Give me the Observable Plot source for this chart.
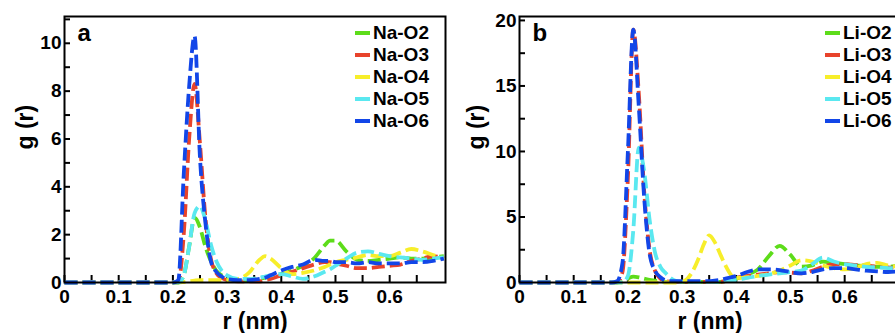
<!DOCTYPE html>
<html><head><meta charset="utf-8">
<script src="https://cdn.jsdelivr.net/npm/d3@7"></script>
<script src="https://cdn.jsdelivr.net/npm/@observablehq/plot@0.6"></script>
<style>
body{margin:0;background:#fff;width:895px;height:333px;overflow:hidden;font-family:"Liberation Sans",Arial,sans-serif;}
#wrap{position:relative;width:895px;height:333px;overflow:hidden;}
.panel{position:absolute;top:0;}
.legend{position:absolute;font-weight:bold;font-size:19px;color:#000;}
.legend .row{position:absolute;left:0;height:22px;display:flex;align-items:center;white-space:nowrap;}
.legend .sw{display:inline-block;width:15px;height:4px;margin-right:3px;}
</style></head>
<body><div id="wrap"></div>
<script>
// ----- data -----
const seriesColors = ["#5ddc1a", "#e8432b", "#f7ee2a", "#5ae8f0", "#1246e8"];
const namesA = ["Na-O2", "Na-O3", "Na-O4", "Na-O5", "Na-O6"];
const namesB = ["Li-O2", "Li-O3", "Li-O4", "Li-O5", "Li-O6"];

// panel a: r (nm)
const rA = [0, 0.05, 0.1, 0.15, 0.2, 0.21, 0.22, 0.23, 0.24, 0.25, 0.26, 0.27, 0.28, 0.29, 0.30,
            0.32, 0.34, 0.36, 0.37, 0.38, 0.40, 0.42, 0.44, 0.46, 0.48, 0.49, 0.50, 0.52, 0.54,
            0.56, 0.58, 0.60, 0.62, 0.64, 0.66, 0.68, 0.70];
const naO2 = [0, 0, 0, 0, 0, 0, 0.3, 1.5, 2.7, 2.3, 1.5, 0.9, 0.5, 0.3, 0.15,
              0.1, 0.1, 0.15, 0.2, 0.25, 0.35, 0.5, 0.7, 1.0, 1.55, 1.75, 1.75, 1.3, 0.95,
              0.9, 0.95, 1.0, 1.05, 1.0, 1.0, 1.05, 1.1];
const naO3 = [0, 0, 0, 0, 0, 0, 2.0, 6.0, 8.3, 5.8, 2.7, 1.0, 0.4, 0.2, 0.1,
              0.05, 0.05, 0.05, 0.1, 0.15, 0.3, 0.45, 0.6, 0.75, 0.85, 0.85, 0.8, 0.7, 0.6,
              0.6, 0.65, 0.7, 0.75, 0.9, 1.0, 1.1, 1.0];
const naO4 = [0, 0, 0, 0, 0, 0, 0.02, 0.05, 0.08, 0.1, 0.1, 0.1, 0.1, 0.1, 0.1,
              0.15, 0.4, 0.95, 1.1, 1.0, 0.6, 0.35, 0.4, 0.5, 0.65, 0.75, 0.85, 0.95, 1.05,
              1.15, 1.1, 1.1, 1.25, 1.4, 1.3, 1.15, 1.0];
const naO5 = [0, 0, 0, 0, 0, 0, 0.3, 1.5, 2.9, 3.2, 2.6, 1.6, 0.9, 0.5, 0.3,
              0.15, 0.15, 0.2, 0.25, 0.3, 0.35, 0.25, 0.15, 0.25, 0.45, 0.55, 0.7, 1.0, 1.25,
              1.3, 1.2, 1.1, 1.05, 1.0, 0.95, 1.0, 1.05];
const naO6 = [0, 0, 0, 0, 0, 0.1, 4.5, 8.2, 10.3, 5.2, 2.5, 0.9, 0.45, 0.25, 0.15,
              0.1, 0.1, 0.15, 0.2, 0.3, 0.5, 0.65, 0.75, 0.95, 0.9, 0.9, 0.85, 0.85, 0.8,
              0.85, 0.8, 0.8, 0.8, 0.85, 0.85, 0.9, 1.0];

// panel b: r (nm)
const rB = [0, 0.05, 0.1, 0.15, 0.17, 0.18, 0.19, 0.20, 0.21, 0.22, 0.23, 0.24, 0.25, 0.26, 0.27,
            0.28, 0.29, 0.30, 0.31, 0.32, 0.33, 0.34, 0.35, 0.36, 0.37, 0.38, 0.39, 0.40, 0.42,
            0.44, 0.46, 0.48, 0.50, 0.52, 0.54, 0.56, 0.58, 0.60, 0.62, 0.64, 0.66, 0.68, 0.70];
const liO2 = [0, 0, 0, 0, 0, 0, 0.1, 0.3, 0.45, 0.4, 0.3, 0.2, 0.15, 0.1, 0.05,
              0.05, 0.05, 0.05, 0.05, 0.05, 0.05, 0.05, 0.05, 0.05, 0.05, 0.1, 0.2, 0.3, 0.6,
              1.0, 2.0, 2.8, 2.1, 1.2, 1.3, 1.6, 1.5, 1.4, 1.3, 1.25, 1.2, 1.2, 1.3];
const liO3 = [0, 0, 0, 0, 0, 0, 0.8, 8.0, 19.3, 14.5, 7.0, 2.5, 0.9, 0.3, 0.1,
              0.05, 0.05, 0.05, 0.05, 0.05, 0.05, 0.05, 0.05, 0.05, 0.05, 0.1, 0.2, 0.35, 0.5,
              0.6, 0.7, 0.8, 0.75, 0.7, 0.9, 1.2, 1.4, 1.4, 1.35, 1.3, 1.2, 1.15, 1.1];
const liO4 = [0, 0, 0, 0, 0, 0, 0, 0, 0, 0, 0, 0, 0, 0, 0,
              0, 0, 0.05, 0.3, 0.9, 1.8, 2.9, 3.6, 3.1, 2.2, 1.3, 0.6, 0.35, 0.4,
              0.5, 0.65, 0.9, 1.3, 1.7, 1.6, 1.3, 1.1, 1.0, 1.1, 1.4, 1.5, 1.3, 1.2];
const liO5 = [0, 0, 0, 0, 0, 0, 0, 0.5, 4.0, 10.3, 8.5, 4.8, 2.3, 1.2, 0.7,
              0.3, 0.1, 0.05, 0.05, 0.05, 0.05, 0.05, 0.05, 0.05, 0.05, 0.1, 0.15, 0.2, 0.35,
              0.5, 0.6, 0.7, 0.8, 0.9, 1.4, 1.9, 1.6, 1.4, 1.3, 1.2, 1.15, 1.1, 1.1];
const liO6 = [0, 0, 0, 0, 0, 0.1, 1.5, 10.0, 19.3, 13.5, 6.5, 2.2, 0.9, 0.4, 0.15,
              0.1, 0.1, 0.1, 0.1, 0.1, 0.1, 0.1, 0.1, 0.15, 0.2, 0.3, 0.4, 0.5, 0.8,
              1.0, 1.0, 0.95, 0.8, 0.7, 0.8, 1.0, 1.1, 1.1, 1.0, 0.9, 0.85, 0.8, 0.85];

const xTicks = [0, 0.1, 0.2, 0.3, 0.4, 0.5, 0.6];
const xMinor = [0, 0.05, 0.1, 0.15, 0.2, 0.25, 0.3, 0.35, 0.4, 0.45, 0.5, 0.55, 0.6, 0.65];
const yTicksA = [0, 2, 4, 6, 8, 10];
const yMinorA = [1, 2, 3, 4, 5, 6, 7, 8, 9, 10, 11];
const yTicksB = [0, 5, 10, 15, 20];
const yMinorB = [2.5, 5, 7.5, 10, 12.5, 15, 17.5, 20];

function rows(r, arrays, names) {
  const out = [];
  arrays.forEach((arr, i) => arr.forEach((g, j) => out.push({r: r[j], g, s: names[i]})));
  return out;
}

const font = "Liberation Sans, Arial, sans-serif";
const fmt = d => String(d);

function panel({r, arrays, names, yDomain, yTicks, yMinor, letter, width, marginLeft, yTitleDx}) {
  const data = rows(r, arrays, names);
  return Plot.plot({
    width, height: 333,
    marginLeft, marginRight: 5, marginTop: 16, marginBottom: 51,
    style: {fontFamily: font, fontWeight: "bold", fontSize: "19px", color: "#000", overflow: "visible"},
    x: {domain: [0, 0.703]},
    y: {domain: yDomain},
    color: {domain: names, range: seriesColors},
    marks: [
      Plot.axisX({ticks: xMinor, tickSize: -7, fill: "none", label: null, strokeWidth: 2}),
      Plot.axisX({ticks: xTicks, tickSize: 0, tickPadding: 7, label: null, tickFormat: fmt, fontSize: 19, fontWeight: "bold"}),
      Plot.axisY({ticks: yMinor, tickSize: -6, fill: "none", label: null, strokeWidth: 2}),
      Plot.axisY({ticks: yTicks, tickSize: 0, tickPadding: 3, label: null, tickFormat: fmt, fontSize: 19, fontWeight: "bold"}),
      ...names.map(n => Plot.line(data.filter(d => d.s === n), {
        x: "r", y: "g", stroke: "s", strokeWidth: 3.8, strokeDasharray: "13,5",
        curve: "monotone-x", strokeLinecap: "butt"
      })),
      Plot.frame({stroke: "#000", strokeWidth: 2}),
      Plot.text([letter], {frameAnchor: "top-left", dx: 13, dy: 7, fontSize: 24, fontWeight: "bold"}),
      Plot.text(["r (nm)"], {frameAnchor: "bottom", lineAnchor: "middle", dy: 39, fontSize: 23, fontWeight: "bold"}),
      Plot.text(["g (r)"], {frameAnchor: "left", dx: yTitleDx, rotate: -90, fontSize: 23, fontWeight: "bold"})
    ]
  });
}

const wrap = document.getElementById("wrap");

const pa = panel({r: rA, arrays: [naO2, naO3, naO4, naO5, naO6], names: namesA,
  yDomain: [0, 11.12], yTicks: yTicksA, yMinor: yMinorA, letter: "a", width: 450, marginLeft: 64, yTitleDx: -39});
pa.classList.add("panel"); pa.style.left = "0px";
wrap.appendChild(pa);

const pb = panel({r: rB, arrays: [liO2, liO3, liO4, liO5, liO6], names: namesB,
  yDomain: [0, 20.3], yTicks: yTicksB, yMinor: yMinorB, letter: "b", width: 455, marginLeft: 69, yTitleDx: -43});
pb.classList.add("panel"); pb.style.left = "450px";
wrap.appendChild(pb);

function legend(names, left, top) {
  const lg = document.createElement("div");
  lg.className = "legend";
  lg.style.left = left + "px"; lg.style.top = top + "px";
  names.forEach((n, i) => {
    const row = document.createElement("div");
    row.className = "row";
    row.style.top = (i * 22.1) + "px";
    const sw = document.createElement("span");
    sw.className = "sw"; sw.style.background = seriesColors[i];
    const tx = document.createElement("span"); tx.textContent = n;
    row.appendChild(sw); row.appendChild(tx);
    lg.appendChild(row);
  });
  wrap.appendChild(lg);
}
legend(namesA, 355, 22);
legend(namesB, 825, 22);
</script></body></html>
